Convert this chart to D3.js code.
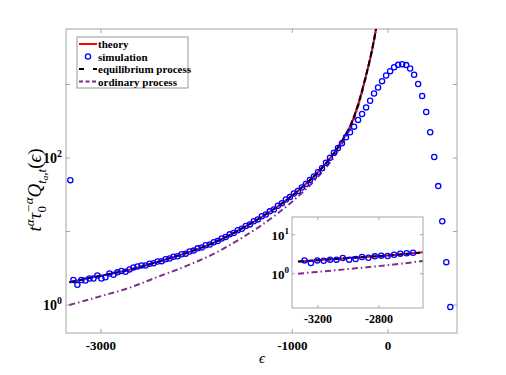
<!DOCTYPE html>
<html>
<head>
<meta charset="utf-8">
<script src="https://cdn.jsdelivr.net/npm/d3@7"></script>
<style>
  body { margin: 0; background: #fff; }
  text { font-family: "Liberation Serif", "Times New Roman", serif; }
</style>
</head>
<body>
<script>
//============ data =========//
// model curves (epsilon, value)
var curveX = [-3330, -3000, -2700, -2400, -2100, -1800, -1500, -1200, -900, -700, -500, -450, -400, -350, -300, -250, -200, -175, -150, -120];
var theoryY = [2.04, 2.51, 3.02, 3.89, 5.13, 7.24, 11.5, 19.9, 39.8, 70.8, 155, 200, 263, 380, 603, 1047, 1905, 2630, 3800, 6310];
var equilY = [2.04, 2.51, 3.02, 3.89, 5.13, 7.24, 11.5, 19.9, 39.8, 70.8, 155, 200, 263, 380, 603, 1047, 1905, 2630, 3800, 6310];
var ordinaryY = [1.00, 1.32, 1.72, 2.43, 3.43, 5.13, 8.61, 15.8, 33.5, 61.7, 140, 184, 243, 355, 569, 1000, 1841, 2570, 3715, 6166];

// simulation points
var simX = [-3320, -3288, -3246, -3204, -3162, -3120, -3078, -3037, -2995, -2953, -2911,
  -2869, -2827, -2785, -2743, -2701, -2660, -2618, -2576, -2534, -2492,
  -2450, -2408, -2366, -2324, -2282, -2241, -2199, -2157, -2115, -2073,
  -2031, -1989, -1947, -1905, -1863, -1821, -1780, -1738, -1696, -1654,
  -1612, -1570, -1528, -1486, -1444, -1403, -1361, -1319, -1277, -1235,
  -1193, -1151, -1109, -1067, -1025, -984, -942, -900, -858, -816,
  -774, -732, -690, -648, -606, -565, -523, -481, -439, -397,
  -355, -313, -271, -229, -187, -146, -104, -62, -20, 22,
  64, 106, 148, 190, 231, 273, 315, 357, 399, 441,
  483, 525, 567, 609, 651];
var simY = [50, 2.19, 1.88, 2.19, 2.15, 2.29, 2.29, 2.52, 2.29, 2.38, 2.68,
  2.57, 2.78, 2.9, 2.84, 3.05, 3.25, 3.35, 3.45, 3.45, 3.65,
  3.7, 3.9, 3.95, 4.2, 4.3, 4.55, 4.6, 4.9, 5.0, 5.35,
  5.5, 5.9, 6.05, 6.5, 6.65, 7.15, 7.4, 8.05, 8.4, 9.15,
  9.55, 10.4, 10.9, 11.9, 12.5, 13.8, 14.6, 16.1, 17.0, 18.8,
  20.0, 22.4, 24.2, 27.2, 29.4, 32.9, 35.5, 39.6, 44.2, 50.3,
  56.2, 64.0, 72.5, 86, 101, 118, 137, 159, 191, 224,
  267, 330, 397, 488, 602, 756, 912, 1110, 1325, 1520,
  1720, 1850, 1893, 1836, 1651, 1357, 1014, 697, 423, 224,
  103, 41.5, 13.8, 3.83, 0.94];

var xTicks = [-3000, -1000, 0];
var yTicks = [1, 10, 100, 1000];
var yLabelTicks = [1, 100];
var insetXTicks = [-3200, -2800];
var insetYTicks = [1, 10];
var legendItems = ['theory', 'simulation', 'equilibrium process', 'ordinary process'];

//============ setup =========//
var width = 506, height = 375;
var axisColor = '#a6a6a6',
  red = '#ff0000',
  blue = '#0000ff',
  purple = '#7e2f8e';

var svg = d3.select('body').append('svg')
  .attr('width', width)
  .attr('height', height);

svg.append('rect').attr('width', width).attr('height', height).attr('fill', '#fff');

var box = {left: 66, right: 457, top: 29, bottom: 333};
var inBox = {left: 292, right: 423, top: 217, bottom: 308};

var x = d3.scaleLinear().domain([-3365, 721]).range([box.left, box.right]);
var y = d3.scaleLog().domain([0.416, 5690]).range([box.bottom, box.top]);
var xi = d3.scaleLinear().domain([-3370, -2511]).range([inBox.left, inBox.right]);
var yi = d3.scaleLog().domain([0.132, 28.4]).range([inBox.bottom, inBox.top]);

var defs = svg.append('defs');
defs.append('clipPath').attr('id', 'clipMain').append('rect')
  .attr('x', box.left).attr('y', box.top)
  .attr('width', box.right - box.left).attr('height', box.bottom - box.top);
defs.append('clipPath').attr('id', 'clipInset').append('rect')
  .attr('x', inBox.left).attr('y', inBox.top)
  .attr('width', inBox.right - inBox.left).attr('height', inBox.bottom - inBox.top);

// zip helper
function pairs(xs, ys) {
  return xs.map(function(v, i) { return [v, ys[i]]; });
}

function drawCurves(g, sx, sy, eqClipRight) {
  var line = d3.line()
    .x(function(d) { return sx(d[0]); })
    .y(function(d) { return sy(d[1]); })
    .curve(d3.curveMonotoneX);

  g.append('path').attr('d', line(pairs(curveX, theoryY)))
    .attr('fill', 'none').attr('stroke', red).attr('stroke-width', 2);
  g.append('path').attr('d', line(pairs(curveX, ordinaryY)))
    .attr('fill', 'none').attr('stroke', purple).attr('stroke-width', 2)
    .attr('stroke-dasharray', '6,3,1.5,3');
  // equilibrium drawn with its own clip so it can stop short of the red line
  var eg = g.append('g');
  if (eqClipRight) {
    var id = 'eqclip' + Math.round(eqClipRight);
    defs.append('clipPath').attr('id', id).append('rect')
      .attr('x', 0).attr('y', 0).attr('width', eqClipRight).attr('height', height);
    eg.attr('clip-path', 'url(#' + id + ')');
  }
  eg.append('path').attr('d', line(pairs(curveX, equilY)))
    .attr('fill', 'none').attr('stroke', '#000').attr('stroke-width', 2)
    .attr('stroke-dasharray', '6,3');
}

function drawPoints(g, sx, sy, filt) {
  g.selectAll('circle.sim')
    .data(pairs(simX, simY).filter(filt))
    .enter().append('circle')
    .attr('class', 'sim')
    .attr('cx', function(d) { return sx(d[0]); })
    .attr('cy', function(d) { return sy(d[1]); })
    .attr('r', 2.6)
    .attr('fill', 'none')
    .attr('stroke', blue)
    .attr('stroke-width', 1.3);
}

function drawFrame(g, b, sx, sy, xt, yt, tickLen) {
  g.append('rect')
    .attr('x', b.left).attr('y', b.top)
    .attr('width', b.right - b.left).attr('height', b.bottom - b.top)
    .attr('fill', 'none').attr('stroke', axisColor).attr('stroke-width', 1);
  xt.forEach(function(t) {
    g.append('line').attr('x1', sx(t)).attr('x2', sx(t))
      .attr('y1', b.bottom).attr('y2', b.bottom - tickLen).attr('stroke', axisColor);
    g.append('line').attr('x1', sx(t)).attr('x2', sx(t))
      .attr('y1', b.top).attr('y2', b.top + tickLen).attr('stroke', axisColor);
  });
  yt.forEach(function(t) {
    g.append('line').attr('y1', sy(t)).attr('y2', sy(t))
      .attr('x1', b.left).attr('x2', b.left + tickLen).attr('stroke', axisColor);
    g.append('line').attr('y1', sy(t)).attr('y2', sy(t))
      .attr('x1', b.right).attr('x2', b.right - tickLen).attr('stroke', axisColor);
  });
}

function powLabel(g, px, py, v, size) {
  var t = g.append('text')
    .attr('x', px).attr('y', py)
    .attr('text-anchor', 'end')
    .attr('font-weight', 'bold')
    .attr('font-size', size);
  t.append('tspan').text('10');
  t.append('tspan').attr('dy', -size * 0.45).attr('font-size', size * 0.7).text(Math.round(Math.log10(v)));
}

//============ main axes =========//
var main = svg.append('g');
drawFrame(main, box, x, y, xTicks, yTicks, 4);

var plotArea = main.append('g').attr('clip-path', 'url(#clipMain)');
drawCurves(plotArea, x, y, null);
drawPoints(plotArea, x, y, function() { return true; });

xTicks.forEach(function(t) {
  main.append('text')
    .attr('x', x(t)).attr('y', 350)
    .attr('text-anchor', 'middle')
    .attr('font-weight', 'bold')
    .attr('font-size', 13)
    .text(t);
});
yLabelTicks.forEach(function(t) {
  powLabel(main, 62, y(t) + 5, t, 14);
});

// axis labels
svg.append('text')
  .attr('x', 262).attr('y', 363)
  .attr('text-anchor', 'middle')
  .attr('font-style', 'italic')
  .attr('font-size', 15)
  .text('ϵ');

var yl = svg.append('text')
  .attr('transform', 'translate(41,190) rotate(-90)')
  .attr('text-anchor', 'middle')
  .attr('font-style', 'italic')
  .attr('font-size', 19);
yl.append('tspan').text('t');
yl.append('tspan').attr('dy', -7).attr('font-size', 13).text('α');
yl.append('tspan').attr('dy', 7).text('τ');
yl.append('tspan').attr('dy', 5).attr('font-size', 13).attr('font-style', 'normal').text('0');
yl.append('tspan').attr('dx', -7).attr('dy', -13).attr('font-size', 13).text('−α');
yl.append('tspan').attr('dy', 8).text('Q');
yl.append('tspan').attr('dy', 5).attr('font-size', 13).text('t');
yl.append('tspan').attr('dy', 2).attr('font-size', 9).text('a');
yl.append('tspan').attr('dy', -2).attr('font-size', 13).text(',t');
yl.append('tspan').attr('dy', -5).attr('font-style', 'normal').text('(');
yl.append('tspan').text('ϵ');
yl.append('tspan').attr('font-style', 'normal').text(')');

//============ legend =========//
var lg = svg.append('g');
lg.append('rect')
  .attr('x', 77).attr('y', 37).attr('width', 111).attr('height', 51)
  .attr('fill', '#fff').attr('stroke', '#999').attr('stroke-width', 1);
var rowY = [44, 56.5, 69, 81.5];
lg.append('line').attr('x1', 79).attr('x2', 97).attr('y1', rowY[0]).attr('y2', rowY[0])
  .attr('stroke', red).attr('stroke-width', 2);
lg.append('circle').attr('cx', 88).attr('cy', rowY[1]).attr('r', 2.6)
  .attr('fill', 'none').attr('stroke', blue).attr('stroke-width', 1.3);
lg.append('line').attr('x1', 79).attr('x2', 97).attr('y1', rowY[2]).attr('y2', rowY[2])
  .attr('stroke', '#000').attr('stroke-width', 2).attr('stroke-dasharray', '5,9');
lg.append('line').attr('x1', 79).attr('x2', 97).attr('y1', rowY[3]).attr('y2', rowY[3])
  .attr('stroke', purple).attr('stroke-width', 2).attr('stroke-dasharray', '4,2.5');
legendItems.forEach(function(name, i) {
  lg.append('text')
    .attr('x', 98).attr('y', rowY[i] + 4)
    .attr('font-weight', 'bold')
    .attr('font-size', 11)
    .text(name);
});

//============ inset =========//
var inset = svg.append('g');
inset.append('rect')
  .attr('x', inBox.left).attr('y', inBox.top)
  .attr('width', inBox.right - inBox.left).attr('height', inBox.bottom - inBox.top)
  .attr('fill', '#fff');
var inArea = inset.append('g').attr('clip-path', 'url(#clipInset)');
drawCurves(inArea, xi, yi, xi(-2530));
drawPoints(inArea, xi, yi, function(d) { return d[0] > -3300 && d[0] < -2560; });
drawFrame(inset, inBox, xi, yi, insetXTicks, insetYTicks, 3);

insetXTicks.forEach(function(t) {
  inset.append('text')
    .attr('x', xi(t)).attr('y', 323)
    .attr('text-anchor', 'middle')
    .attr('font-weight', 'bold')
    .attr('font-size', 12)
    .text(t);
});
insetYTicks.forEach(function(t) {
  powLabel(inset, 289, yi(t) + 5, t, 13);
});
</script>
</body>
</html>
